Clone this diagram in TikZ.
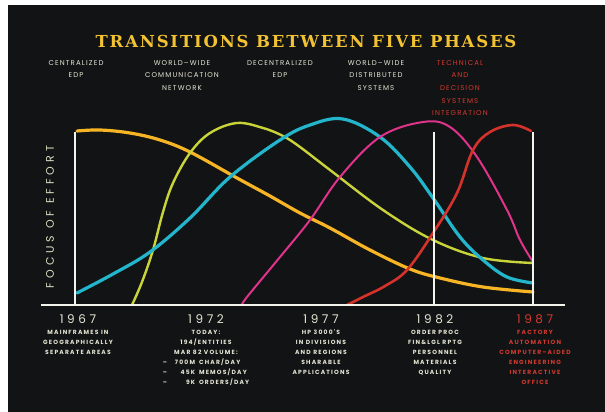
\documentclass[tikz,border=0pt]{standalone}
\usepackage{fontspec}
\setmainfont{Poppins}
\newfontfamily\ttlfont[LetterSpace=11]{DejaVu Serif}
\newfontfamily\lblfont[LetterSpace=16]{Poppins}
\newfontfamily\notefont[LetterSpace=20]{Poppins}
\newfontfamily\yrfont[LetterSpace=30]{Poppins}
\newfontfamily\fcsfont[LetterSpace=36]{Poppins}
\usetikzlibrary{positioning}
\definecolor{bgblack}{RGB}{18,19,20}
\definecolor{ttlyellow}{RGB}{242,194,51}
\definecolor{txtwhite}{RGB}{230,230,214}
\definecolor{txtred}{RGB}{210,58,48}
\definecolor{fcsgreen}{RGB}{214,228,196}
\definecolor{axiswhite}{RGB}{244,244,236}
\definecolor{corange}{RGB}{247,181,38}
\definecolor{clime}{RGB}{201,212,58}
\definecolor{ccyan}{RGB}{35,181,204}
\definecolor{cmag}{RGB}{224,51,140}
\definecolor{cred}{RGB}{213,50,43}

\begin{document}
\begin{tikzpicture}[x=1pt,y=-1pt,
      curve/.style={smooth,tension=0.6,line cap=round},
      axis/.style={draw=axiswhite,line width=2.4pt},
      ttl/.style={text=ttlyellow,inner sep=0pt,font={\ttlfont\bfseries\fontsize{16.5}{18}\selectfont}},
      phase/.style={anchor=north,align=center,text=txtwhite,inner sep=0pt,font={\lblfont\fontsize{7}{12.7}\selectfont}},
      yr/.style={text=txtwhite,inner sep=0pt,font={\yrfont\fontsize{12}{14}\selectfont}},
      note/.style={anchor=north,align=center,text=txtwhite,inner sep=0pt,font={\notefont\bfseries\fontsize{6}{10}\selectfont}}]
   % page and black board
   \useasboundingbox (0,0) rectangle (605,412);
   \fill[white] (0,0) rectangle (605,412);
   \fill[bgblack] (8,5) rectangle (605,412);
   %
   \node (title) at (306,41) [ttl] {TRANSITIONS BETWEEN FIVE PHASES};
   %
   \node (ph1) at (76,60) [phase] {CENTRALIZED\\EDP};
   \node (ph2) at (182,60) [phase] {WORLD–WIDE\\COMMUNICATION\\NETWORK};
   \node (ph3) at (280,60) [phase] {DECENTRALIZED\\EDP};
   \node (ph4) at (376,60) [phase] {WORLD–WIDE\\DISTRIBUTED\\SYSTEMS};
   \node (ph5) at (460,60) [phase,text=txtred] {TECHNICAL\\AND\\DECISION\\SYSTEMS\\INTEGRATION};
   %
   \node (focus) at (50,217) [rotate=90,text=fcsgreen,inner sep=0pt,font={\fcsfont\fontsize{11}{12}\selectfont}] {FOCUS OF EFFORT};
   %
   % the five curves
   \draw[curve,corange,line width=3.2pt] plot coordinates {(77,131) (100,130) (130,133) (160,140) (190,152) (237,178)
      (270,196) (300,213) (330,228) (370,250) (410,269) (440,278) (483,287) (533,292)};
   \draw[curve,clime,line width=2.4pt] plot coordinates {(132,305) (142,282) (153,250) (163,212) (173,183) (190,153)
      (210,133) (237,123) (263,128) (283,136) (300,147) (330,170) (383,210) (433,240) (483,258) (533,263)};
   \draw[curve,ccyan,line width=3.2pt] plot coordinates {(77,293) (113,274) (150,252) (190,218) (230,177)
      (280,140) (310,125) (343,119) (380,137) (410,167) (433,198) (460,237) (483,260) (507,277) (533,283)};
   \draw[curve,cmag,line width=2pt] plot coordinates {(242,305) (247,297) (280,257) (310,220) (340,177) (380,137)
      (423,122) (450,127) (477,157) (507,210) (520,240) (533,262)};
   \draw[curve,cred,line width=2.6pt] plot coordinates {(347,305) (363,297) (385,286) (407,270) (433,233) (457,193)
      (473,150) (490,132) (513,125) (531,131)};
   %
   % axes
   \draw[axis] (75,132) -- (75,305);
   \draw[axis] (434,132) -- (434,305);
   \draw[axis] (533,132) -- (533,305);
   \draw[axis] (41,305) -- (565,305);
   %
   % years and notes
   \node (y67) at (78,319) [yr] {1967};
   \node (y72) at (206,319) [yr] {1972};
   \node (y77) at (321,319) [yr] {1977};
   \node (y82) at (435,319) [yr] {1982};
   \node (y87) at (535,319) [yr,text=txtred] {1987};
   %
   \node (n67) [note,below=6pt of y67] {MAINFRAMES IN\\GEOGRAPHICALLY\\SEPARATE AREAS};
   \node (n72) [note,below=6pt of y72] {TODAY:\\194/ENTITIES\\MAR 82 VOLUME:\\
      \begin{tabular}[t]{@{}l@{\hspace{8pt}}r@{\hspace{4pt}}l@{}}–&700M&CHAR/DAY\\–&45K&MEMOS/DAY\\–&9K&ORDERS/DAY\end{tabular}};
   \node (n77) [note,below=6pt of y77] {HP 3000'S\\IN DIVISIONS\\AND REGIONS\\SHARABLE\\APPLICATIONS};
   \node (n82) [note,below=6pt of y82] {ORDER PROC\\FIN\&LGL RPTG\\PERSONNEL\\MATERIALS\\QUALITY};
   \node (n87) [note,below=6pt of y87,text=txtred] {FACTORY\\AUTOMATION\\COMPUTER–AIDED\\ENGINEERING\\INTERACTIVE\\OFFICE};
\end{tikzpicture}
\end{document}
